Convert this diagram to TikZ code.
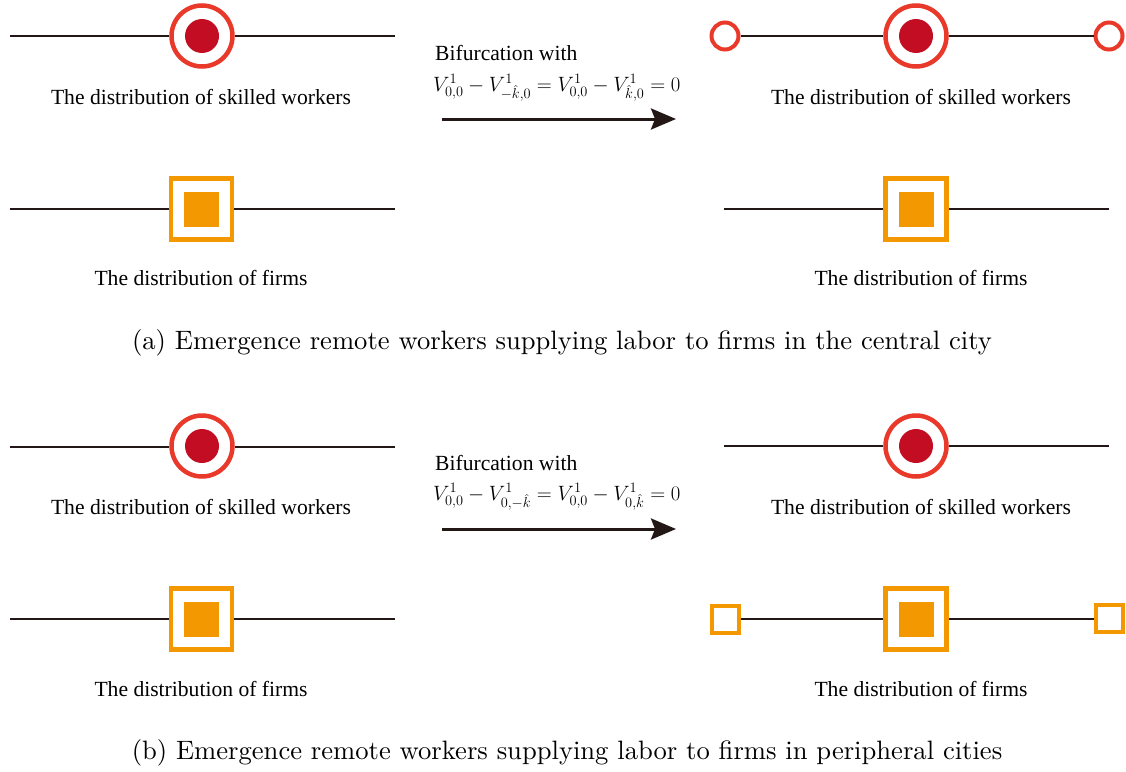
\documentclass[tikz,border=0pt]{standalone}
\usepackage{fontspec}
\setmainfont{Latin Modern Roman}
\newfontfamily\labelfont{Liberation Serif}
\newfontfamily\capfont[Extension=.otf]{lmroman10-regular}
\usetikzlibrary{arrows.meta}
\definecolor{ringred}{HTML}{E8392A}
\definecolor{diskred}{HTML}{C30D23}
\definecolor{firmorange}{HTML}{F39800}
\definecolor{axisink}{HTML}{231815}
\tikzset{
  ring/.style={circle, draw=ringred, line width=4.5pt, minimum size=61pt, inner sep=0pt, fill=white},
  smallring/.style={circle, draw=ringred, line width=4pt, minimum size=27pt, inner sep=0pt, fill=white},
  disk/.style={circle, fill=diskred, minimum size=34pt, inner sep=0pt},
  frame/.style={rectangle, draw=firmorange, line width=4.5pt, minimum size=61pt, inner sep=0pt, fill=white},
  smallframe/.style={rectangle, draw=firmorange, line width=4pt, minimum size=27pt, inner sep=0pt, fill=white},
  block/.style={rectangle, fill=firmorange, minimum size=35pt, inner sep=0pt},
  axis/.style={draw=axisink, line width=1.4pt},
  lbl/.style={font=\labelfont\fontsize{21.6}{24}\selectfont, inner sep=0pt},
  eqn/.style={font=\fontsize{21.5}{24}\selectfont, inner sep=0pt, anchor=west},
  captext/.style={font=\capfont\fontsize{26.6}{30}\selectfont, inner sep=0pt},
  bifarrow/.style={-{Stealth[length=25pt,width=21pt,inset=4pt]}, draw=axisink, line width=3pt}
}
\begin{document}
\begin{tikzpicture}[x=1pt,y=-1pt]
\useasboundingbox (0,0) rectangle (1126,771);

% ---------- (a) ----------
% skilled workers, before
\coordinate (a1l) at (10,36);
\coordinate (a1r) at (395,36);
\node[ring] (a1c) at (202,36) {};
\node[disk] (a1d) at (202,36) {};
\draw[axis] (a1l) -- (a1c.west);
\draw[axis] (a1c.east) -- (a1r);
\node[lbl] (a1t) at (201,97) {The distribution of skilled workers};

% firms, before
\coordinate (a2l) at (10,209);
\coordinate (a2r) at (395,209);
\node[frame] (a2c) at (201.5,209) {};
\node[block] (a2d) at (201.5,209) {};
\draw[axis] (a2l) -- (a2c.west);
\draw[axis] (a2c.east) -- (a2r);
\node[lbl] (a2t) at (201,278) {The distribution of firms};

% bifurcation
\node[lbl, anchor=west] (abif) at (435,53) {Bifurcation with};
\node[eqn] (aeq) at (433,88) {$V^1_{0,0}-V^1_{-\hat{k},0}=V^1_{0,0}-V^1_{\hat{k},0}=0$};
\coordinate (aas) at (442,119);
\coordinate (aae) at (676,119);
\draw[bifarrow] (aas) -- (aae);

% skilled workers, after
\node[smallring] (a3l) at (725,36) {};
\node[smallring] (a3r) at (1109,36) {};
\node[ring] (a3c) at (916,36) {};
\node[disk] (a3d) at (916,36) {};
\draw[axis] (a3l.east) -- (a3c.west);
\draw[axis] (a3c.east) -- (a3r.west);
\node[lbl] (a3t) at (921,97) {The distribution of skilled workers};

% firms, after
\coordinate (a4l) at (724,209);
\coordinate (a4r) at (1109,209);
\node[frame] (a4c) at (916,209) {};
\node[block] (a4d) at (916,209) {};
\draw[axis] (a4l) -- (a4c.west);
\draw[axis] (a4c.east) -- (a4r);
\node[lbl] (a4t) at (921,278) {The distribution of firms};

\node[captext] (acap) at (562,343) {(a) Emergence remote workers supplying labor to firms in the central city};

% ---------- (b) ----------
% skilled workers, before
\coordinate (b1l) at (10,447);
\coordinate (b1r) at (395,447);
\node[ring] (b1c) at (202,446) {};
\node[disk] (b1d) at (202,446) {};
\draw[axis] (b1l) -- (b1c.west |- b1l);
\draw[axis] (b1c.east |- b1r) -- (b1r);
\node[lbl] (b1t) at (201,507) {The distribution of skilled workers};

% firms, before
\coordinate (b2l) at (10,619);
\coordinate (b2r) at (395,619);
\node[frame] (b2c) at (201.5,619) {};
\node[block] (b2d) at (201.5,619) {};
\draw[axis] (b2l) -- (b2c.west);
\draw[axis] (b2c.east) -- (b2r);
\node[lbl] (b2t) at (201,689) {The distribution of firms};

% bifurcation
\node[lbl, anchor=west] (bbif) at (435,463) {Bifurcation with};
\node[eqn] (beq) at (433,497) {$V^1_{0,0}-V^1_{0,-\hat{k}}=V^1_{0,0}-V^1_{0,\hat{k}}=0$};
\coordinate (bas) at (442,529);
\coordinate (bae) at (676,529);
\draw[bifarrow] (bas) -- (bae);

% skilled workers, after
\coordinate (b3l) at (724,446);
\coordinate (b3r) at (1109,446);
\node[ring] (b3c) at (916,446) {};
\node[disk] (b3d) at (916,446) {};
\draw[axis] (b3l) -- (b3c.west);
\draw[axis] (b3c.east) -- (b3r);
\node[lbl] (b3t) at (921,507) {The distribution of skilled workers};

% firms, after
\node[smallframe] (b4l) at (725,619) {};
\node[smallframe] (b4r) at (1109,618) {};
\node[frame] (b4c) at (916,619) {};
\node[block] (b4d) at (916,619) {};
\draw[axis] (b4l.east) -- (b4c.west);
\draw[axis] (b4c.east) -- (b4r.west |- b4c);
\node[lbl] (b4t) at (921,689) {The distribution of firms};

\node[captext] (bcap) at (567,753) {(b) Emergence remote workers supplying labor to firms in peripheral cities};
\end{tikzpicture}
\end{document}
